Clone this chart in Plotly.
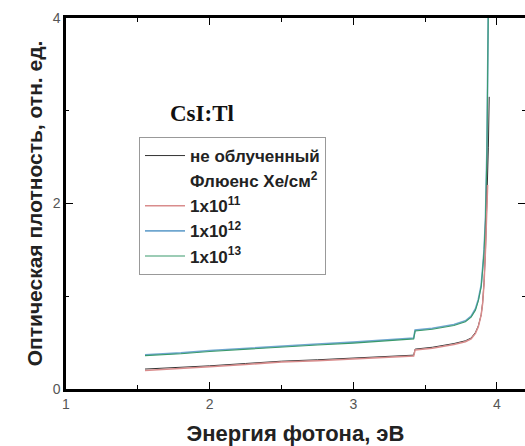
import plotly.graph_objects as go

# Data
energy_unirr = [1.55, 1.8, 2.0, 2.25, 2.5, 2.75, 3.0, 3.2, 3.42, 3.43, 3.55, 3.7, 3.78, 3.82, 3.85, 3.87, 3.89, 3.90, 3.91, 3.92, 3.93, 3.94, 3.946]
od_unirr = [0.215, 0.232, 0.25, 0.275, 0.3, 0.315, 0.335, 0.35, 0.365, 0.43, 0.45, 0.49, 0.52, 0.55, 0.61, 0.68, 0.80, 0.93, 1.15, 1.5, 2.0, 2.6, 3.15]

energy_e11 = [1.55, 1.8, 2.0, 2.25, 2.5, 2.75, 3.0, 3.2, 3.42, 3.43, 3.55, 3.7, 3.78, 3.82, 3.85, 3.87, 3.89, 3.90, 3.91, 3.92, 3.93, 3.935]
od_e11 = [0.20, 0.22, 0.24, 0.265, 0.29, 0.305, 0.325, 0.34, 0.355, 0.42, 0.44, 0.48, 0.51, 0.54, 0.60, 0.67, 0.80, 0.92, 1.14, 1.5, 1.95, 2.2]

energy_e12 = [1.55, 1.8, 2.0, 2.25, 2.5, 2.75, 3.0, 3.2, 3.42, 3.43, 3.55, 3.7, 3.78, 3.82, 3.85, 3.87, 3.89, 3.90, 3.91, 3.92, 3.93, 3.94]
od_e12 = [0.37, 0.39, 0.415, 0.44, 0.465, 0.485, 0.505, 0.525, 0.55, 0.635, 0.655, 0.695, 0.735, 0.785, 0.865, 0.965, 1.12, 1.3, 1.5, 1.85, 2.6, 4.2]

energy_e13 = [1.55, 1.8, 2.0, 2.25, 2.5, 2.75, 3.0, 3.2, 3.42, 3.43, 3.55, 3.7, 3.78, 3.82, 3.85, 3.87, 3.89, 3.90, 3.91, 3.92, 3.93, 3.94]
od_e13 = [0.36, 0.38, 0.405, 0.43, 0.455, 0.475, 0.495, 0.515, 0.54, 0.625, 0.645, 0.685, 0.725, 0.775, 0.85, 0.95, 1.10, 1.28, 1.48, 1.82, 2.55, 4.2]

names = ["<b>не облученный</b>", "<b>Флюенс Xe/см<sup>2</sup></b>",
         "<b>1x10<sup>11</sup></b>", "<b>1x10<sup>12</sup></b>", "<b>1x10<sup>13</sup></b>"]
colors = ["#333333", "rgba(0,0,0,0)", "#d98c8c", "#6fa6cf", "#3a9a6c"]

L, T, B = 66, 18, 57
W, H = 525, 446
PW, PH = W - L, H - T - B

fig = go.Figure()
fig.add_trace(go.Scatter(x=energy_e12, y=od_e12, mode="lines", name=names[3],
                         line=dict(color=colors[3], width=1.6), legendrank=4, legendgroup="d"))
fig.add_trace(go.Scatter(x=energy_e13, y=od_e13, mode="lines", name=names[4],
                         line=dict(color=colors[4], width=1.1), legendrank=5, legendgroup="e"))
fig.add_trace(go.Scatter(x=energy_unirr, y=od_unirr, mode="lines", name=names[0],
                         line=dict(color=colors[0], width=1.0), legendrank=1, legendgroup="a"))
fig.add_trace(go.Scatter(x=energy_e11, y=od_e11, mode="lines", name=names[2],
                         line=dict(color=colors[2], width=1.5), legendrank=3, legendgroup="c"))
fig.add_trace(go.Scatter(x=[None], y=[None], mode="lines", name=names[1],
                         line=dict(color=colors[1], width=1), legendrank=2, legendgroup="b"))
# invisible traces carrying the right-side and top-side axes
fig.add_trace(go.Scatter(x=[None], y=[None], yaxis="y2", showlegend=False, hoverinfo="skip"))
fig.add_trace(go.Scatter(x=[None], y=[None], xaxis="x2", showlegend=False, hoverinfo="skip"))

tickfont = dict(family="Arial, Liberation Sans", size=14, color="#555555")
minor_x = dict(dtick=0.5, ticks="inside", ticklen=4, tickcolor="black", tickwidth=1.3)
minor_y = dict(dtick=1, ticks="inside", ticklen=3, tickcolor="black", tickwidth=1.3)

fig.update_layout(
    template="simple_white",
    width=W, height=H,
    margin=dict(l=L, r=0, t=T, b=B),
    paper_bgcolor="white", plot_bgcolor="white",
    showlegend=True,
    xaxis=dict(range=[1, 4.195], tickvals=[1, 2, 3, 4], ticktext=["1", "2", "3", "4"],
               showline=True, linecolor="black", linewidth=2.5, mirror=False,
               ticks="inside", ticklen=7, tickwidth=1.3, tickcolor="black",
               showgrid=False, zeroline=False, tickfont=tickfont, minor=minor_x,
               title=dict(text="<b>Энергия фотона, эВ</b>",
                          font=dict(family="Arial, Liberation Sans", size=22, color="#222222"),
                          standoff=16)),
    xaxis2=dict(range=[1, 4.195], overlaying="x", side="top", anchor="y",
                tickvals=[1, 2, 3, 4], showticklabels=False,
                showline=True, linecolor="black", linewidth=2.5,
                ticks="inside", ticklen=7, tickwidth=1.3, tickcolor="black",
                showgrid=False, zeroline=False, minor=minor_x),
    yaxis=dict(range=[0, 4], tickvals=[0, 2, 4], ticktext=["0", "2", "4"],
               showline=True, linecolor="black", linewidth=2.5, mirror=False,
               ticks="inside", ticklen=7, tickwidth=1.3, tickcolor="black",
               showgrid=False, zeroline=False, tickfont=tickfont, minor=minor_y,
               title=dict(text="<b>Оптическая плотность, отн. ед.</b>",
                          font=dict(family="Arial, Liberation Sans", size=21, color="#222222"),
                          standoff=5)),
    yaxis2=dict(range=[0, 4], overlaying="y", side="right", anchor="x", showline=False,
                tickvals=[0, 2, 4], showticklabels=False,
                ticks="inside", ticklen=7, tickwidth=1.3, tickcolor="black",
                minor=minor_y, showgrid=False, zeroline=False),
    legend=dict(x=(139 - L) / PW, y=(H - B - 137) / PH, xanchor="left", yanchor="top",
                bordercolor="#999999", borderwidth=1, bgcolor="white",
                traceorder="grouped", tracegroupgap=0, itemwidth=40,
                font=dict(family="Arial, Liberation Sans", size=17, color="#222222")),
)

fig.add_annotation(x=(168 - L) / PW, y=(H - B - 113) / PH, xref="paper", yref="paper",
                   xanchor="left", yanchor="middle", text="<b>CsI:Tl</b>", showarrow=False,
                   font=dict(family="Liberation Serif, Times New Roman", size=23, color="#111111"))

fig.write_html("out.html")
